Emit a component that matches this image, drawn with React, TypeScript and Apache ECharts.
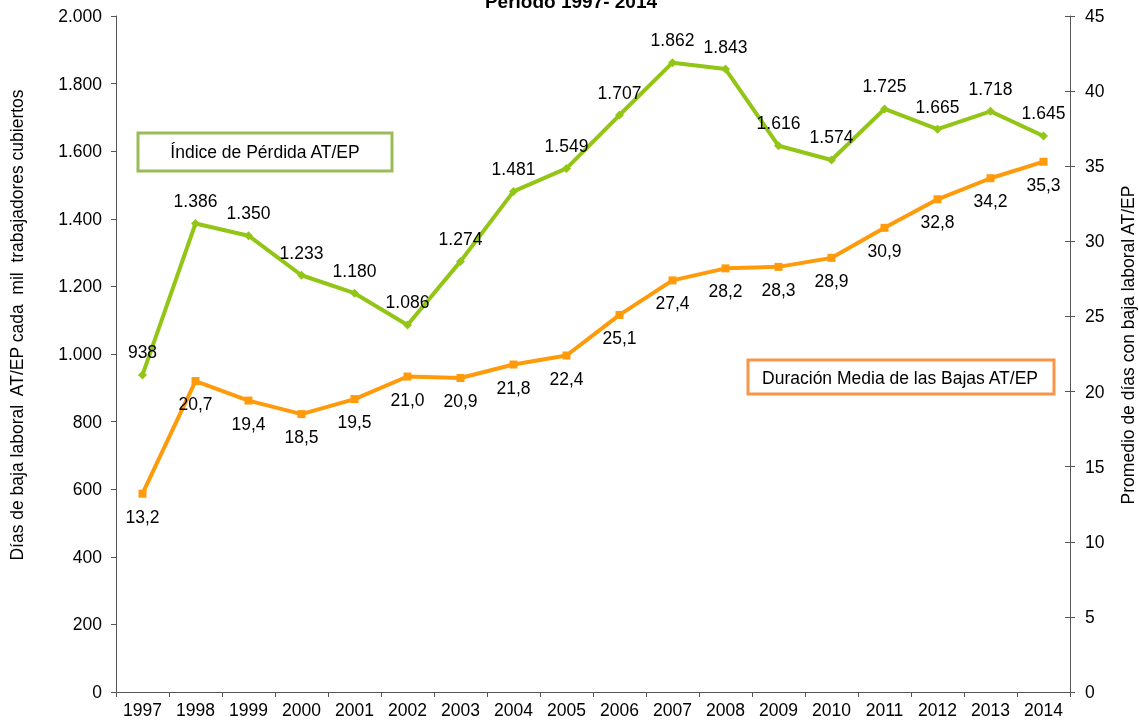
import React, { useEffect, useRef } from "react";
import * as echarts from "echarts";

const years = ["1997","1998","1999","2000","2001","2002","2003","2004","2005","2006","2007","2008","2009","2010","2011","2012","2013","2014"];
const indicePerdida = [938,1386,1350,1233,1180,1086,1274,1481,1549,1707,1862,1843,1616,1574,1725,1665,1718,1645];
const duracionMedia = [13.2,20.7,19.4,18.5,19.5,21.0,20.9,21.8,22.4,25.1,27.4,28.2,28.3,28.9,30.9,32.8,34.2,35.3];

const GREEN = "#92C516";
const ORANGE = "#FF9A0A";
const FONT = "Liberation Sans, Arial, sans-serif";
const FS = 17.5;

const fmtThousands = (v: number) => {
  const s = Math.round(v).toString();
  return s.replace(/\B(?=(\d{3})+(?!\d))/g, ".");
};
const fmtDecimal = (v: number) => v.toFixed(1).replace(".", ",");

export default function App() {
  const ref = useRef<HTMLDivElement>(null);
  useEffect(() => {
    if (!ref.current) return;
    const chart = echarts.init(ref.current, null, { renderer: "svg" });
    chart.setOption({
      animation: false,
      textStyle: { fontFamily: FONT },
      grid: { left: 116, right: 69, top: 16, bottom: 29, containLabel: false, outerBoundsMode: "none" },
      xAxis: {
        type: "category",
        data: years,
        boundaryGap: true,
        axisLine: { lineStyle: { color: "#555", width: 1 } },
        axisTick: { show: true, alignWithLabel: false, length: 5, lineStyle: { color: "#555" } },
        axisLabel: { color: "#000", fontSize: FS, fontFamily: FONT, margin: 9 },
      },
      yAxis: [
        {
          type: "value",
          min: 0,
          max: 2000,
          interval: 200,
          position: "left",
          axisLine: { show: true, lineStyle: { color: "#555" } },
          axisTick: { show: true, length: 5, lineStyle: { color: "#555" } },
          axisLabel: { color: "#000", fontSize: FS, fontFamily: FONT, margin: 14, formatter: (v: number) => fmtThousands(v) },
          splitLine: { show: false },
        },
        {
          type: "value",
          min: 0,
          max: 45,
          interval: 5,
          position: "right",
          axisLine: { show: true, lineStyle: { color: "#555" } },
          axisTick: { show: true, length: 5, lineStyle: { color: "#555" } },
          axisLabel: { color: "#000", fontSize: FS, fontFamily: FONT, margin: 15 },
          splitLine: { show: false },
        },
        {
          type: "value",
          min: 0,
          max: 45,
          interval: 5,
          position: "right",
          axisLine: { show: false },
          axisTick: { show: true, inside: true, length: 5, lineStyle: { color: "#555" } },
          axisLabel: { show: false },
          splitLine: { show: false },
        },
      ],
      graphic: [
        {
          type: "text",
          x: 571,
          y: 11,
          style: { text: "Período 1997- 2014", fontSize: 19, fontWeight: "bold", fontFamily: FONT, fill: "#000", align: "center", verticalAlign: "bottom" },
        },
        {
          type: "text",
          x: 17,
          y: 325,
          rotation: Math.PI / 2,
          style: { text: "Días de baja laboral  AT/EP cada  mil  trabajadores cubiertos", fontSize: FS, fontFamily: FONT, fill: "#000", align: "center", verticalAlign: "middle" },
        },
        {
          type: "text",
          x: 1128,
          y: 345,
          rotation: Math.PI / 2,
          style: { text: "Promedio de días con baja laboral AT/EP", fontSize: FS, fontFamily: FONT, fill: "#000", align: "center", verticalAlign: "middle" },
        },
        {
          type: "rect",
          shape: { x: 138, y: 133, width: 254, height: 38 },
          style: { fill: "#fff", stroke: "#9BBB59", lineWidth: 3 },
          z: 10,
        },
        {
          type: "text",
          x: 265,
          y: 152,
          style: { text: "Índice de Pérdida AT/EP", fontSize: FS, fontFamily: FONT, fill: "#000", align: "center", verticalAlign: "middle" },
          z: 11,
        },
        {
          type: "rect",
          shape: { x: 748, y: 360, width: 306, height: 34 },
          style: { fill: "#fff", stroke: "#F79646", lineWidth: 3 },
          z: 10,
        },
        {
          type: "text",
          x: 1038,
          y: 378,
          style: { text: "Duración Media de las Bajas AT/EP", fontSize: FS, fontFamily: FONT, fill: "#000", align: "right", verticalAlign: "middle" },
          z: 11,
        },
      ],
      series: [
        {
          name: "Índice de Pérdida AT/EP",
          type: "line",
          yAxisIndex: 0,
          data: indicePerdida,
          lineStyle: { color: GREEN, width: 4 },
          itemStyle: { color: GREEN },
          symbol: "diamond",
          symbolSize: 9,
          label: {
            show: true,
            position: "top",
            distance: 9,
            color: "#000",
            fontSize: FS,
            fontFamily: FONT,
            formatter: (p: any) => fmtThousands(p.value),
          },
        },
        {
          name: "Duración Media de las Bajas AT/EP",
          type: "line",
          yAxisIndex: 1,
          data: duracionMedia,
          lineStyle: { color: ORANGE, width: 4 },
          itemStyle: { color: ORANGE },
          symbol: "rect",
          symbolSize: 8,
          label: {
            show: true,
            position: "bottom",
            distance: 10,
            color: "#000",
            fontSize: FS,
            fontFamily: FONT,
            formatter: (p: any) => fmtDecimal(p.value),
          },
        },
      ],
    });
    return () => chart.dispose();
  }, []);
  return <div ref={ref} style={{ position: "fixed", left: 0, top: 0, width: 1139, height: 721 }} />;
}
